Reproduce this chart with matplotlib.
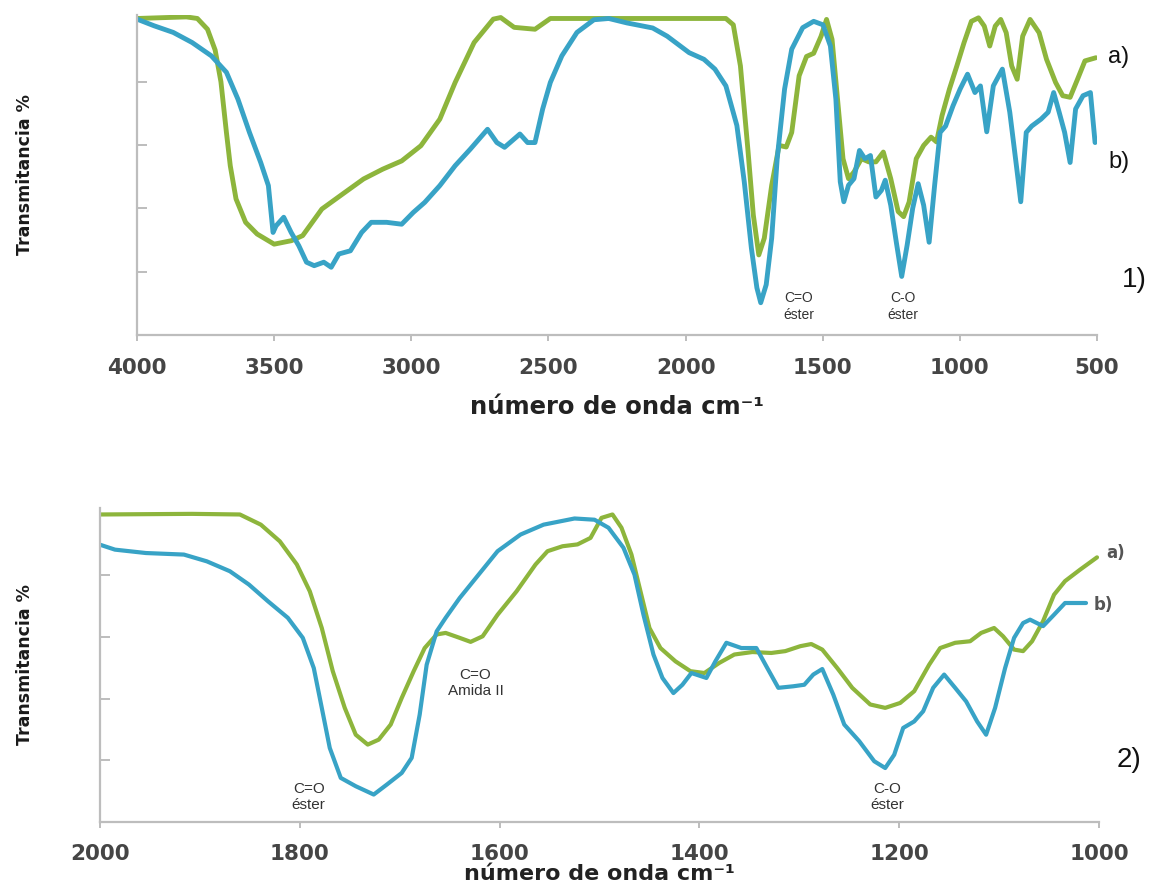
"""FTIR spectra: 1) full range, 2) 2000-1000 cm-1 detail."""

import matplotlib
matplotlib.use("Agg")
import matplotlib.pyplot as plt

# ---- data: panel 1 (4000-500 cm-1) ----
top_green_wn = [4000, 3820, 3780, 3743, 3715, 3694, 3674, 3660, 3639, 3604,
                3562, 3500, 3437, 3396, 3326, 3243, 3174, 3104, 3035, 2965,
                2896, 2840, 2771, 2701, 2674, 2625, 2549, 2493, 1853, 1826,
                1800, 1773, 1753, 1733, 1713, 1686, 1659, 1633, 1613, 1586,
                1559, 1533, 1506, 1486, 1466, 1446, 1426, 1406, 1386, 1359,
                1332, 1306, 1279, 1252, 1225, 1205, 1185, 1159, 1132, 1105,
                1085, 1065, 1038, 1011, 985, 958, 932, 911, 891, 871,
                851, 831, 811, 791, 771, 744, 711, 684, 651, 625,
                598, 571, 544, 504]
top_green_t = [100, 100.5, 100, 96.6, 90, 80, 64, 53.5, 43, 35.6,
               31.9, 28.7, 29.8, 31.4, 39.8, 45, 49.3, 52.4, 55, 59.8,
               68.2, 79.8, 92.4, 99.8, 100.3, 97.2, 96.6, 100, 100, 98,
               85, 58.8, 37.9, 25.3, 30.6, 47.3, 59.9, 59.4, 64, 81.9,
               88, 89, 94.4, 99.7, 93.4, 74.5, 55.7, 49.4, 51.5, 55.7,
               54.7, 54.7, 57.8, 49.4, 39, 37.4, 42, 55.7, 59.9, 62.5,
               61, 69.3, 77.7, 85, 92.3, 99.1, 100.2, 97.6, 91.3, 97.6,
               99.7, 95.5, 85, 80.8, 94.4, 99.7, 95.5, 87.1, 79.8, 75.6,
               75.1, 80.8, 86.6, 87.6]

top_blue_wn = [4000, 3938, 3868, 3799, 3729, 3674, 3632, 3590, 3549, 3521,
               3504, 3493, 3465, 3438, 3410, 3382, 3354, 3319, 3292, 3264,
               3222, 3181, 3146, 3090, 3035, 2993, 2951, 2896, 2840, 2785,
               2722, 2688, 2660, 2604, 2576, 2549, 2521, 2493, 2451, 2396,
               2334, 2280, 2214, 2120, 2067, 1987, 1933, 1893, 1853, 1813,
               1786, 1760, 1740, 1726, 1706, 1686, 1666, 1639, 1613, 1573,
               1533, 1499, 1472, 1452, 1436, 1423, 1406, 1386, 1366, 1346,
               1326, 1306, 1286, 1272, 1252, 1232, 1212, 1192, 1172, 1152,
               1132, 1112, 1092, 1072, 1052, 1025, 999, 972, 945, 925,
               902, 878, 845, 818, 791, 778, 758, 738, 704, 678,
               658, 638, 618, 598, 578, 551, 524, 507]
top_blue_t = [99.8, 97.7, 95.6, 92.4, 88.2, 83, 74.5, 64, 54.5, 47.2,
              32.4, 34.5, 37.2, 32.4, 28.2, 23, 21.9, 23, 21.4, 25.6,
              26.6, 32.4, 35.6, 35.6, 35, 38.7, 41.9, 47.2, 53.5, 58.7,
              65, 60.8, 59.3, 63.5, 60.8, 60.8, 71.4, 79.8, 88.2, 95.6,
              99.6, 100, 98.6, 97, 94.4, 89.2, 87.1, 84, 78.7, 66.2,
              48.4, 27.4, 14.9, 10.2, 15.9, 30.6, 55.7, 77.7, 90.3, 97.1,
              99.1, 98, 91.3, 74.5, 48.4, 42.1, 47.3, 49.4, 58.3, 55.7,
              56.7, 43.6, 45.7, 48.9, 41, 29.5, 18.5, 28.5, 40, 47.8,
              41, 29.3, 47.3, 64, 66, 72.4, 77.7, 82.4, 76.6, 78.7,
              64.2, 78.7, 84, 70.4, 51.5, 42.1, 64, 66, 68.2, 70.4,
              76.6, 70.4, 64, 54.5, 71.4, 75.6, 76.6, 60.8]

# ---- data: panel 2 (2000-1000 cm-1) ----
bot_green_wn = [2000, 1908, 1860, 1839, 1820, 1803, 1790, 1778, 1767, 1755,
                1744, 1732, 1721, 1709, 1698, 1686, 1675, 1663, 1654, 1640,
                1629, 1617, 1602, 1583, 1564, 1552, 1537, 1522, 1509, 1498,
                1487, 1478, 1468, 1459, 1450, 1439, 1424, 1409, 1395, 1380,
                1365, 1347, 1328, 1314, 1299, 1288, 1277, 1262, 1247, 1229,
                1214, 1199, 1185, 1170, 1159, 1144, 1129, 1118, 1105, 1096,
                1085, 1076, 1067, 1056, 1045, 1034, 1019, 1002]
bot_green_t = [99.7, 99.9, 99.7, 96.4, 91, 83.5, 74.8, 62.9, 48.9, 37,
               28.3, 25.1, 26.7, 31.6, 40.2, 48.9, 56.4, 60.8, 61.3, 59.7,
               58.4, 60.2, 67.2, 74.8, 83.5, 87.8, 89.4, 90, 92.1, 98.6,
               99.7, 95.4, 86.7, 74.8, 62.9, 56.4, 52.1, 48.9, 48.3, 51.6,
               54.3, 55.1, 54.8, 55.4, 57, 57.7, 55.9, 49.9, 43.5, 38.1,
               37, 38.6, 42.4, 51, 56.4, 58.1, 58.6, 61.3, 62.9, 60.2,
               55.9, 55.4, 58.6, 65.1, 73.7, 78.1, 81.8, 85.8]

bot_blue_wn = [2000, 1985, 1954, 1916, 1893, 1870, 1851, 1832, 1812, 1797,
               1786, 1778, 1770, 1759, 1744, 1726, 1713, 1698, 1688, 1680,
               1673, 1663, 1654, 1640, 1621, 1602, 1579, 1556, 1525, 1505,
               1491, 1476, 1465, 1456, 1446, 1437, 1426, 1417, 1408, 1393,
               1384, 1373, 1358, 1343, 1332, 1321, 1306, 1295, 1286, 1277,
               1266, 1255, 1240, 1225, 1214, 1205, 1196, 1185, 1176, 1166,
               1155, 1144, 1133, 1122, 1113, 1104, 1094, 1085, 1076, 1069,
               1056, 1045, 1034, 1025, 1013]
bot_blue_t = [89.9, 88.3, 87.2, 86.7, 84.5, 81.3, 77, 71.6, 66.2, 59.7,
              49.9, 37, 24, 14.3, 11.6, 8.9, 12.1, 15.9, 20.8, 34.8,
              51, 61.8, 66.2, 72.6, 80.2, 87.8, 93.2, 96.4, 98.4, 98,
              95.4, 88.9, 80.2, 67.2, 54.3, 46.7, 41.8, 44.5, 48.3, 46.7,
              52.1, 58.1, 56.4, 56.4, 49.9, 43.5, 44, 44.5, 47.8, 49.6,
              41.3, 31.6, 26.2, 19.7, 17.5, 21.8, 30.5, 32.6, 35.9, 43.5,
              47.8, 43.5, 39.1, 32.6, 28.3, 37, 49.9, 59.7, 64.5, 65.6,
              63.5, 67.2, 71, 71, 71]

top_xticks = [4000, 3500, 3000, 2500, 2000, 1500, 1000, 500]
bot_xticks = [2000, 1800, 1600, 1400, 1200, 1000]
y_ticks = [20, 40, 60, 80]

# peak labels: (text, wavenumber, transmittance)
top_notes = [("C=O\néster", 1587, 9), ("C-O\néster", 1207, 9)]
bot_notes = [("C=O\néster", 1791, 8), ("C=O\nAmida II", 1624, 45),
             ("C-O\néster", 1212, 8)]

GREEN = "#8db53c"
BLUE = "#38a3c6"
AXIS = "#bdbdbd"
W, H = 1157, 893

fig = plt.figure(figsize=(W / 100, H / 100), dpi=100)
ax1 = fig.add_axes([137 / W, 1 - 335 / H, 960 / W, 320 / H])
ax2 = fig.add_axes([100 / W, 1 - 822 / H, 999 / W, 314 / H])


def style_axis(ax, xlim, xticks, ytop, ylab_x, pad, labelpad, xlab_size):
    ax.set_xlim(*xlim)
    ax.set_ylim(0, ytop)
    ax.set_xticks(xticks)
    ax.set_xticklabels([str(t) for t in xticks])
    ax.set_yticks(y_ticks)
    ax.set_yticklabels([])
    for side in ("top", "right"):
        ax.spines[side].set_visible(False)
    for side in ("left", "bottom"):
        ax.spines[side].set_color(AXIS)
        ax.spines[side].set_linewidth(1.6)
    ax.tick_params(axis="x", direction="out", length=4, width=1.4,
                   color=AXIS, pad=pad, labelsize=15.5, labelcolor="#454545")
    ax.tick_params(axis="y", direction="in", length=7, width=1.4, color=AXIS)
    for lab in ax.get_xticklabels():
        lab.set_fontweight("bold")
    ax.set_xlabel("número de onda cm⁻¹", fontsize=xlab_size,
                  fontweight="bold", color="#222222", labelpad=labelpad)
    ax.set_ylabel("Transmitancia %", fontsize=12.5, fontweight="bold",
                  color="#1a1a1a")
    ax.yaxis.set_label_coords(ylab_x, 0.5)


# panel 1
ax1.plot(top_green_wn, top_green_t, color=GREEN, lw=3.5,
         solid_joinstyle="round", solid_capstyle="round")
ax1.plot(top_blue_wn, top_blue_t, color=BLUE, lw=3.5,
         solid_joinstyle="round", solid_capstyle="round")
style_axis(ax1, (4000, 500), top_xticks, 101.1, (34 - 137) / 960,
           pad=12.5, labelpad=12, xlab_size=17.5)
for txt, x, y in top_notes:
    ax1.text(x, y, txt, ha="center", va="center", fontsize=10,
             family="Liberation Sans", color="#333333", linespacing=1.3)

# panel 2
ax2.plot(bot_green_wn, bot_green_t, color=GREEN, lw=3.0,
         solid_joinstyle="round", solid_capstyle="round")
ax2.plot(bot_blue_wn, bot_blue_t, color=BLUE, lw=3.0,
         solid_joinstyle="round", solid_capstyle="round")
style_axis(ax2, (2000, 1000), bot_xticks, 101.8, (34 - 100) / 999,
           pad=12, labelpad=0, xlab_size=16)
for txt, x, y in bot_notes:
    ax2.text(x, y, txt, ha="center", va="center", fontsize=11,
             family="Liberation Sans", color="#333333", linespacing=1.15)

# series / panel tags on the right
fig.text(1108 / W, 1 - 57 / H, "a)", fontsize=17, family="Liberation Sans",
         va="center", ha="left", color="#111111")
fig.text(1108 / W, 1 - 162 / H, "b)", fontsize=17, family="Liberation Sans",
         va="center", ha="left", color="#111111")
fig.text(1122 / W, 1 - 280 / H, "1)", fontsize=20, family="Liberation Sans",
         va="center", ha="left", color="#111111")
fig.text(1106 / W, 1 - 553 / H, "a)", fontsize=12, fontweight="bold",
         va="center", ha="left", color="#555555")
fig.text(1094 / W, 1 - 605 / H, "b)", fontsize=12, fontweight="bold",
         va="center", ha="left", color="#555555")
fig.text(1117 / W, 1 - 760 / H, "2)", fontsize=20, family="Liberation Sans",
         va="center", ha="left", color="#111111")

fig.savefig("out.png", dpi=100)
